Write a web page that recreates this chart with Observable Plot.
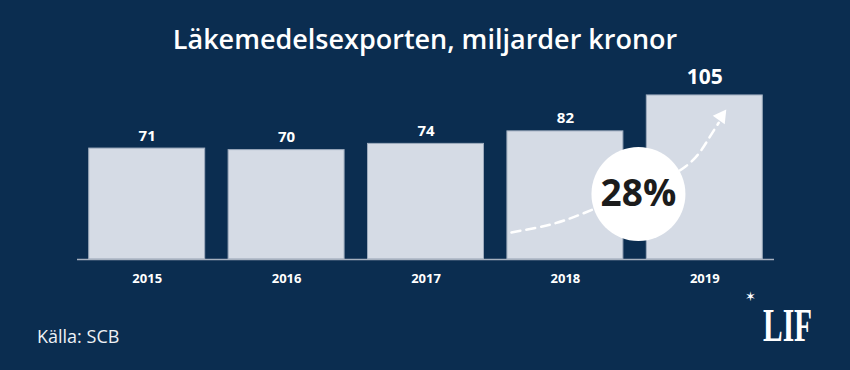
<!DOCTYPE html>
<html>
<head>
<meta charset="utf-8">
<script src="https://cdn.jsdelivr.net/npm/d3@7"></script>
<script src="https://cdn.jsdelivr.net/npm/@observablehq/plot@0.6"></script>
<style>
  html, body { margin: 0; padding: 0; background: #0b2d50; }
  #wrap { position: relative; width: 850px; height: 370px; background: #0b2d50; overflow: hidden; font-family: "Open Sans", sans-serif; }
  #title { position: absolute; left: 0; top: 25px; width: 850px; text-align: center; color: #ffffff; font-size: 27px; font-weight: 600; line-height: 1; white-space: nowrap; }
  #source { position: absolute; left: 37px; top: 327px; color: #eef1f5; font-size: 18px; font-weight: 400; line-height: 1; }
  #logo { position: absolute; left: 763px; top: 303px; color: #ffffff; font-family: "Liberation Serif", "DejaVu Serif", serif; font-weight: 700; font-size: 46px; line-height: 1; transform: scaleX(0.64); transform-origin: left top; }
  #star { position: absolute; left: 745px; top: 290px; color: #ffffff; font-family: "DejaVu Sans", sans-serif; font-size: 13px; line-height: 1; }
  #chart { position: absolute; left: 0; top: 0; }
</style>
</head>
<body>
<div id="wrap">
  <div id="chart"></div>
  <div id="title">Läkemedelsexporten, miljarder kronor</div>
  <div id="source">Källa: SCB</div>
  <div id="star">✶</div>
  <div id="logo">LIF</div>
</div>
<script>
// Data
const years = [2015, 2016, 2017, 2018, 2019];
const values = [71, 70, 74, 82, 105];
const growthLabel = "28%";
// Annotation: dashed growth arrow (in data units: year, value)
const arrowYears = [2017.613, 2017.893, 2018.144, 2018.524, 2018.862, 2019.020, 2019.100];
const arrowValues = [17.3, 22.4, 30.1, 44.2, 59.5, 76.2, 87.5];
const arrowTip = [{year: 2019.118, value: 91.5}];
const badge = [{year: 2018.524, value: 41.9, label: growthLabel}];

const data = years.map((year, i) => ({year, value: values[i]}));
const arrowPts = arrowYears.map((year, i) => ({year, value: arrowValues[i]}));
const halfBar = 0.416;

const chart = Plot.plot({
  width: 850,
  height: 370,
  marginLeft: 77,
  marginRight: 76,
  marginTop: 71.5,
  marginBottom: 111,
  style: {background: "transparent", color: "#ffffff", fontFamily: "Open Sans, sans-serif", overflow: "visible"},
  x: {domain: [2014.5, 2019.5]},
  y: {domain: [0, 120], axis: null},
  marks: [
    Plot.rect(data, {x1: d => d.year - halfBar, x2: d => d.year + halfBar, y1: 0, y2: "value", fill: "#d5dbe5", stroke: "#9eabbd", strokeWidth: 1}),
    Plot.ruleY([0], {stroke: "#a7b1bf", strokeWidth: 1.5}),
    Plot.axisX({ticks: years, tickFormat: d => String(d), tickSize: 0, tickPadding: 14, fontSize: 13, fontWeight: 700, fill: "#ffffff", label: null}),
    Plot.text(data.filter(d => d.year !== 2019), {x: "year", y: "value", text: d => String(d.value), dy: -8, lineAnchor: "bottom", fontSize: 15, fontWeight: 700, fill: "#ffffff"}),
    Plot.text(data.filter(d => d.year === 2019), {x: "year", y: "value", text: d => String(d.value), dy: -11, lineAnchor: "bottom", fontSize: 21, fontWeight: 700, fill: "#ffffff"}),
    Plot.line(arrowPts, {x: "year", y: "value", curve: "natural", stroke: "#ffffff", strokeWidth: 2.5, strokeDasharray: "9,6"}),
    Plot.dot(arrowTip, {x: "year", y: "value", symbol: "triangle", r: 5.5, fill: "#ffffff", stroke: "none", rotate: 36}),
    Plot.dot(badge, {x: "year", y: "value", r: 47, fill: "#ffffff", stroke: "none"}),
    Plot.text(badge, {x: "year", y: "value", text: "label", fontSize: 37, fontWeight: 700, fill: "#1c1c1c"})
  ]
});
document.getElementById("chart").appendChild(chart);
</script>
</body>
</html>
